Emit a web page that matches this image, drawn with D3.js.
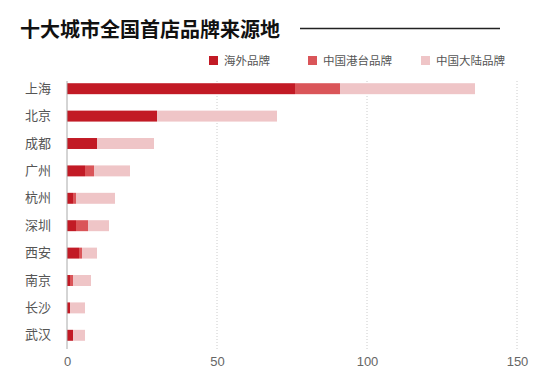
<!DOCTYPE html>
<html>
<head>
<meta charset="utf-8">
<script src="https://cdn.jsdelivr.net/npm/d3@7"></script>
<style>
  body { margin: 0; background: #fff; }
  text { font-family: "Noto Sans CJK SC", "Noto Sans", sans-serif; }
</style>
</head>
<body>
<div id="chart"></div>
<script>
// data
var cities = ['上海', '北京', '成都', '广州', '杭州', '深圳', '西安', '南京', '长沙', '武汉']
var overseas = [76, 30, 10, 6, 2, 3, 4, 1, 1, 2]
var hktw = [15, 0, 0, 3, 1, 4, 1, 1, 0, 0]
var mainland = [45, 40, 19, 12, 13, 7, 5, 6, 5, 4]
var seriesNames = ['海外品牌', '中国港台品牌', '中国大陆品牌']
var xTicks = [0, 50, 100, 150]
var colors = ['#c21a25', '#da5559', '#efc5c7']

var W = 550, H = 370
var svg = d3.select('#chart').append('svg').attr('width', W).attr('height', H)

var rows = cities.map(function (c, i) {
  return { city: c, '海外品牌': overseas[i], '中国港台品牌': hktw[i], '中国大陆品牌': mainland[i] }
})
var stacked = d3.stack().keys(seriesNames)(rows)

var x = d3.scaleLinear().domain([0, 150]).range([67, 517])
var y = d3.scaleBand().domain(cities).range([75, 349]).paddingInner(0.6).paddingOuter(0.3)

// title + rule
svg.append('text').attr('x', 20).attr('y', 37)
  .attr('font-size', 20).attr('font-weight', 'bold').attr('fill', '#111')
  .text('十大城市全国首店品牌来源地')
svg.append('line').attr('x1', 300).attr('x2', 500).attr('y1', 28.5).attr('y2', 28.5)
  .attr('stroke', '#222').attr('stroke-width', 1.5)

// legend
var legX = [209, 308, 421]
var leg = svg.selectAll('.leg').data(seriesNames).enter().append('g')
  .attr('transform', function (d, i) { return 'translate(' + legX[i] + ',56)' })
leg.append('rect').attr('width', 9).attr('height', 9)
  .attr('fill', function (d, i) { return colors[i] })
leg.append('text').attr('x', 15).attr('y', 8.5).attr('font-size', 11.5).attr('fill', '#555')
  .text(function (d) { return d })

// grid lines
svg.append('g').selectAll('line').data(xTicks.slice(1)).enter().append('line')
  .attr('x1', x).attr('x2', x).attr('y1', 81).attr('y2', 349)
  .attr('stroke', '#ccc').attr('stroke-dasharray', '1,2')

// bars
svg.append('g').selectAll('g').data(stacked).enter().append('g')
  .attr('fill', function (d, i) { return colors[i] })
  .selectAll('rect').data(function (d) { return d }).enter().append('rect')
  .attr('x', function (d) { return x(d[0]) })
  .attr('width', function (d) { return x(d[1]) - x(d[0]) })
  .attr('y', function (d) { return y(d.data.city) })
  .attr('height', y.bandwidth())

// zero axis line
svg.append('line').attr('x1', x(0)).attr('x2', x(0)).attr('y1', 81).attr('y2', 349)
  .attr('stroke', '#aaa').attr('stroke-width', 1)

// x axis labels
var xAxis = svg.append('g').attr('transform', 'translate(0,349)')
  .call(d3.axisBottom(x).tickValues(xTicks).tickSize(0).tickPadding(8))
xAxis.select('.domain').remove()
xAxis.selectAll('text').attr('font-size', 13).attr('fill', '#666')
  .style('font-family', '"Liberation Sans", Arial, sans-serif')

// y labels
var yAxis = svg.append('g').attr('transform', 'translate(51,0)')
  .call(d3.axisLeft(y).tickSize(0).tickPadding(0))
yAxis.select('.domain').remove()
yAxis.selectAll('text').attr('font-size', 13).attr('fill', '#555')
</script>
</body>
</html>
